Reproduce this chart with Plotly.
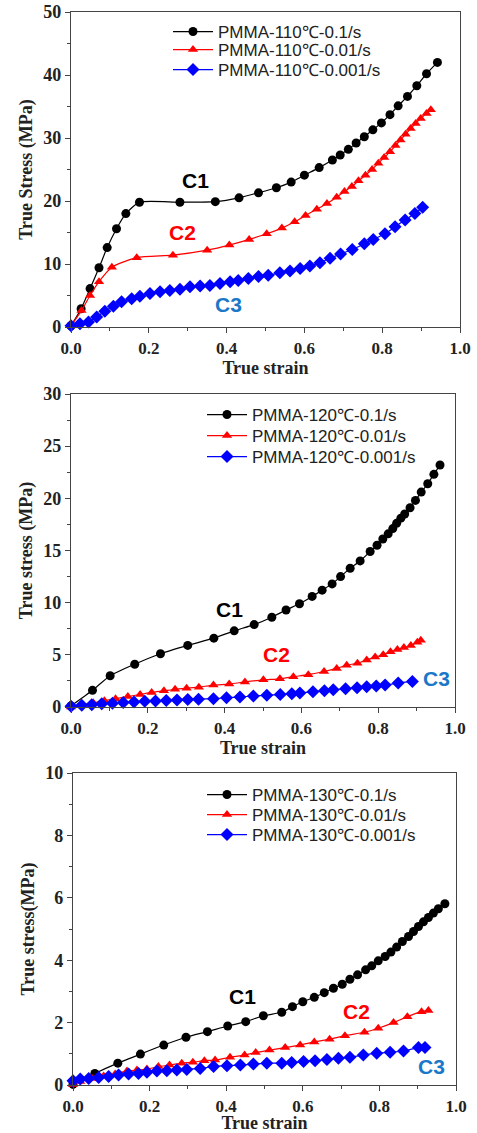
import plotly.graph_objects as go

# ---------------- Panel 1 (110 C) ----------------
p1_c1_x = [0.0, 0.026, 0.049, 0.072, 0.093, 0.117, 0.141, 0.176, 0.280, 0.371, 0.432, 0.482, 0.528, 0.566,
           0.600, 0.638, 0.672, 0.692, 0.713, 0.733, 0.754, 0.776, 0.798, 0.820, 0.841, 0.865, 0.889, 0.914, 0.942]
p1_c1_y = [0.2, 2.9, 6.1, 9.4, 12.6, 15.6, 18.0, 19.8, 19.8, 19.9, 20.5, 21.3, 22.1, 23.0,
           24.1, 25.3, 26.5, 27.3, 28.2, 29.2, 30.2, 31.3, 32.4, 33.7, 35.1, 36.6, 38.3, 40.2, 42.0]
p1_c2_x = [0.0, 0.027, 0.049, 0.072, 0.105, 0.169, 0.262, 0.350, 0.407, 0.458, 0.503, 0.542, 0.575, 0.603,
           0.632, 0.658, 0.683, 0.703, 0.722, 0.739, 0.757, 0.774, 0.790, 0.805, 0.820, 0.834, 0.847,
           0.860, 0.873, 0.886, 0.899, 0.914, 0.925]
p1_c2_y = [0.2, 2.6, 5.0, 7.2, 9.5, 11.0, 11.4, 12.2, 13.0, 13.9, 14.8, 15.7, 16.7, 17.7,
           18.7, 19.6, 20.6, 21.5, 22.3, 23.2, 24.1, 25.0, 26.0, 26.9, 27.8, 28.8, 29.7,
           30.6, 31.5, 32.3, 33.1, 33.9, 34.5]
p1_c3_x = [0.0, 0.023, 0.045, 0.066, 0.087, 0.109, 0.130, 0.156, 0.177, 0.203, 0.229, 0.254, 0.280, 0.306,
           0.332, 0.357, 0.383, 0.409, 0.430, 0.456, 0.482, 0.507, 0.537, 0.563, 0.589, 0.614, 0.640,
           0.666, 0.693, 0.723, 0.754, 0.777, 0.807, 0.833, 0.859, 0.884, 0.904]
p1_c3_y = [0.2, 0.5, 0.8, 1.6, 2.5, 3.3, 4.0, 4.5, 4.9, 5.3, 5.6, 5.8, 6.0, 6.4,
           6.5, 6.6, 6.9, 7.2, 7.4, 7.7, 8.0, 8.2, 8.6, 8.9, 9.3, 9.7, 10.2,
           10.9, 11.6, 12.3, 13.2, 13.9, 14.8, 15.9, 17.0, 18.0, 19.0]

# ---------------- Panel 2 (120 C) ----------------
p2_c1_x = [0.0, 0.056, 0.102, 0.166, 0.233, 0.304, 0.372, 0.425, 0.477, 0.523, 0.560, 0.595, 0.628, 0.654,
           0.680, 0.702, 0.727, 0.753, 0.779, 0.797, 0.812, 0.826, 0.838, 0.848, 0.859, 0.869, 0.883,
           0.897, 0.912, 0.929, 0.945, 0.961]
p2_c1_y = [0.1, 1.6, 3.0, 4.1, 5.1, 5.9, 6.6, 7.3, 7.9, 8.6, 9.3, 9.9, 10.6, 11.2,
           11.8, 12.5, 13.3, 14.0, 14.9, 15.5, 16.1, 16.6, 17.1, 17.6, 18.1, 18.5, 19.1,
           19.8, 20.6, 21.4, 22.3, 23.2]
p2_c2_x = [0.0, 0.028, 0.058, 0.087, 0.116, 0.148, 0.180, 0.210, 0.242, 0.271, 0.301, 0.333, 0.371, 0.412,
           0.453, 0.501, 0.544, 0.579, 0.618, 0.659, 0.692, 0.718, 0.746, 0.770, 0.792, 0.813,
           0.832, 0.850, 0.867, 0.885, 0.902, 0.911]
p2_c2_y = [0.0, 0.2, 0.4, 0.6, 0.8, 1.0, 1.2, 1.4, 1.55, 1.7, 1.8, 1.9, 2.1, 2.2,
           2.4, 2.6, 2.7, 2.9, 3.1, 3.4, 3.7, 4.0, 4.2, 4.5, 4.8, 5.0,
           5.3, 5.5, 5.7, 5.9, 6.2, 6.4]
p2_c3_x = [0.0, 0.028, 0.054, 0.080, 0.108, 0.136, 0.164, 0.192, 0.220, 0.248, 0.276, 0.304, 0.332, 0.371,
           0.405, 0.440, 0.475, 0.510, 0.545, 0.575, 0.596, 0.630, 0.660, 0.683, 0.715, 0.745, 0.770,
           0.795, 0.818, 0.852, 0.889]
p2_c3_y = [0.06, 0.16, 0.22, 0.30, 0.36, 0.42, 0.48, 0.54, 0.58, 0.62, 0.67, 0.71, 0.75, 0.80,
           0.88, 0.96, 1.05, 1.12, 1.20, 1.28, 1.35, 1.45, 1.55, 1.65, 1.75, 1.85, 1.95,
           2.02, 2.10, 2.30, 2.45]

# ---------------- Panel 3 (130 C) ----------------
p3_c1_x = [0.0, 0.057, 0.117, 0.176, 0.237, 0.295, 0.351, 0.404, 0.451, 0.497, 0.545, 0.573, 0.600, 0.630,
           0.656, 0.680, 0.703, 0.723, 0.743, 0.764, 0.780, 0.797, 0.815, 0.830, 0.845, 0.860, 0.876,
           0.889, 0.902, 0.915, 0.928, 0.941, 0.954, 0.971]
p3_c1_y = [0.02, 0.37, 0.70, 0.99, 1.28, 1.53, 1.71, 1.89, 2.03, 2.22, 2.33, 2.51, 2.67, 2.81,
           2.96, 3.10, 3.23, 3.39, 3.53, 3.69, 3.82, 3.98, 4.12, 4.26, 4.42, 4.60, 4.76,
           4.92, 5.08, 5.23, 5.37, 5.51, 5.65, 5.81]
p3_c2_x = [0.0, 0.019, 0.050, 0.080, 0.110, 0.141, 0.167, 0.193, 0.223, 0.252, 0.284, 0.313, 0.343, 0.371,
           0.410, 0.448, 0.477, 0.513, 0.554, 0.593, 0.630, 0.670, 0.710, 0.761, 0.797, 0.837,
           0.873, 0.910, 0.928]
p3_c2_y = [0.02, 0.11, 0.21, 0.29, 0.35, 0.45, 0.48, 0.51, 0.59, 0.64, 0.70, 0.73, 0.78, 0.80,
           0.89, 0.96, 1.04, 1.12, 1.20, 1.28, 1.38, 1.47, 1.58, 1.69, 1.82, 2.00,
           2.19, 2.35, 2.39]
p3_c3_x = [0.0, 0.019, 0.041, 0.067, 0.093, 0.119, 0.145, 0.171, 0.193, 0.219, 0.245, 0.271, 0.297, 0.332,
           0.367, 0.402, 0.437, 0.471, 0.506, 0.545, 0.571, 0.602, 0.632, 0.663, 0.693, 0.723,
           0.758, 0.793, 0.828, 0.863, 0.902, 0.919]
p3_c3_y = [0.14, 0.19, 0.21, 0.24, 0.27, 0.32, 0.35, 0.37, 0.41, 0.45, 0.46, 0.48, 0.50, 0.53,
           0.59, 0.62, 0.64, 0.67, 0.70, 0.70, 0.72, 0.75, 0.78, 0.82, 0.86, 0.89,
           0.96, 1.02, 1.05, 1.09, 1.20, 1.20]

temps = ["110", "120", "130"]
rates = ["0.1/s", "0.01/s", "0.001/s"]
y_titles = ["True Stress (MPa)", "True stress (MPa)", "True stress(MPa)"]
y_ranges = [[0, 50], [0, 30], [0, 10]]
y_dticks = [10, 5, 2]
y_minor = [5, 2.5, 1]
curve_labels = ["C1", "C2", "C3"]
label_pos = [
    [(0.319, 23.3), (0.287, 15.0), (0.404, 3.6)],
    [(0.414, 9.3), (0.536, 5.0), (0.952, 2.7)],
    [(0.443, 2.83), (0.741, 2.35), (0.937, 0.59)],
]

data = [
    [(p1_c1_x, p1_c1_y), (p1_c2_x, p1_c2_y), (p1_c3_x, p1_c3_y)],
    [(p2_c1_x, p2_c1_y), (p2_c2_x, p2_c2_y), (p2_c3_x, p2_c3_y)],
    [(p3_c1_x, p3_c1_y), (p3_c2_x, p3_c2_y), (p3_c3_x, p3_c3_y)],
]

W, H = 477, 1133
# plot areas in pixels (left, right, top, bottom)
areas = [(71, 460, 12, 327), (71, 455, 394, 707), (73, 456, 773, 1085)]
# legend text left x and row centre y (pixels)
legend_text_x = [218, 252, 252]
legend_rows_y = [[32, 50, 70], [415, 436, 457], [795, 815, 835]]

colors = ["black", "red", "blue"]
symbols = ["circle", "triangle-up", "diamond"]
label_colors = ["black", "red", "#1a78c8"]

fig = go.Figure()
layout = dict(width=W, height=H, margin=dict(l=0, r=0, t=0, b=0, autoexpand=False),
              paper_bgcolor="white", plot_bgcolor="white", annotations=[], showlegend=True)

ytick_font = dict(family="Liberation Serif", size=18, color="#222", weight="bold")
xtick_font = dict(family="Liberation Serif", size=17, color="#222", weight="bold")
title_font = dict(family="Liberation Serif", size=18, color="#222", weight="bold")

for p in range(3):
    xa = "x" if p == 0 else f"x{p+1}"
    ya = "y" if p == 0 else f"y{p+1}"
    for s in range(3):
        xs, ys = data[p][s]
        idx = p * 3 + s + 1
        lg = "legend" if idx == 1 else f"legend{idx}"
        fig.add_trace(go.Scatter(
            x=xs, y=ys, mode="lines+markers",
            name=f"PMMA-{temps[p]}\u2103-{rates[s]}",
            line=dict(color=colors[s], width=1.2, shape="spline", smoothing=0.6),
            marker=dict(symbol=symbols[s], size=9 if s != 2 else 10, color=colors[s]),
            xaxis=xa, yaxis=ya, legend=lg, showlegend=True, cliponaxis=False,
        ))
        layout[lg] = dict(x=(legend_text_x[p] - 50) / W, y=1 - legend_rows_y[p][s] / H,
                          xanchor="left", yanchor="middle",
                          bgcolor="rgba(0,0,0,0)", borderwidth=0, itemwidth=40,
                          font=dict(family="Liberation Sans", size=17, color="#222"))
    l, r, t, b = areas[p]
    xdom = [l / W, r / W]
    ydom = [1 - b / H, 1 - t / H]
    xkey = "xaxis" if p == 0 else f"xaxis{p+1}"
    ykey = "yaxis" if p == 0 else f"yaxis{p+1}"
    layout[xkey] = dict(domain=xdom, anchor=ya, range=[0, 1.0], dtick=0.2, tickformat=".1f",
                        automargin=False,
                        showline=True, mirror=True, linecolor="#444", linewidth=1.3,
                        ticks="outside", ticklen=5, tickwidth=1.3, tickcolor="#444",
                        minor=dict(dtick=0.1, ticks="outside", ticklen=3, tickcolor="#444"),
                        showgrid=False, zeroline=False, tickfont=xtick_font,
                        title=dict(text="True strain", font=title_font, standoff=4))
    layout[ykey] = dict(domain=ydom, anchor=xa, range=y_ranges[p], dtick=y_dticks[p],
                        automargin=False,
                        showline=True, mirror=True, linecolor="#444", linewidth=1.3,
                        ticks="outside", ticklen=5, tickwidth=1.3, tickcolor="#444",
                        minor=dict(dtick=y_minor[p], ticks="outside", ticklen=3, tickcolor="#444"),
                        showgrid=False, zeroline=False, tickfont=ytick_font,
                        title=dict(text=y_titles[p], font=title_font, standoff=5))
    for s in range(3):
        ax_, ay_ = label_pos[p][s]
        layout["annotations"].append(dict(
            x=ax_, y=ay_, xref=xa, yref=ya, text=curve_labels[s], showarrow=False,
            font=dict(family="Liberation Sans", size=21, color=label_colors[s], weight="bold")))

fig.update_layout(**layout)
fig.write_html("out.html", config={"displayModeBar": False},
               post_script="document.body.style.margin='0';document.body.style.padding='0';")
